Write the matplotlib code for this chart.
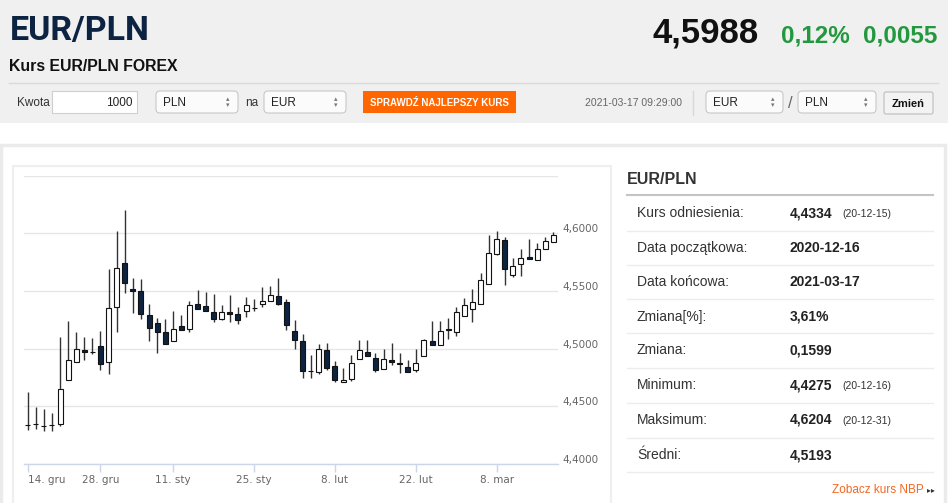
import numpy as np
import pandas as pd
import matplotlib
matplotlib.use("Agg")
import matplotlib.pyplot as plt
from matplotlib.patches import Rectangle, FancyBboxPatch
import matplotlib.transforms as mtransforms

# ---- data: EUR/PLN daily candles 2020-12-14 .. 2021-03-17 ----
holidays = ["2020-12-25", "2021-01-01"]
dates = pd.bdate_range("2020-12-14", "2021-03-17")
dates = dates[~dates.isin(pd.to_datetime(holidays))]

opens = [4.4336, 4.4343, 4.4333, 4.4340, 4.4350, 4.4728, 4.4880, 4.4990, 4.4973, 4.5021,
         4.4886, 4.5358, 4.5744, 4.5519, 4.5499, 4.5292, 4.5222, 4.5145, 4.5062, 4.5200,
         4.5171, 4.5384, 4.5370, 4.5318, 4.5254, 4.5318, 4.5300, 4.5326, 4.5351, 4.5390,
         4.5416, 4.5459, 4.5401, 4.5154, 4.5070, 4.4806, 4.4797, 4.4987, 4.4851, 4.4713,
         4.4733, 4.4906, 4.4969, 4.4921, 4.4826, 4.4903, 4.4873, 4.4843, 4.4811, 4.4935,
         4.5070, 4.5030, 4.5166, 4.5142, 4.5286, 4.5341, 4.5384, 4.5560, 4.5822, 4.5942,
         4.5640, 4.5735, 4.5793, 4.5770, 4.5862, 4.5928]
highs = [4.4624, 4.4497, 4.4480, 4.4446, 4.5100, 4.5243, 4.5142, 4.5100, 4.5090, 4.5157,
         4.5689, 4.6023, 4.6204, 4.5611, 4.5606, 4.5384, 4.5263, 4.5257, 4.5326, 4.5292,
         4.5410, 4.5511, 4.5493, 4.5476, 4.5375, 4.5467, 4.5361, 4.5444, 4.5433, 4.5537,
         4.5545, 4.5611, 4.5430, 4.5249, 4.5125, 4.4949, 4.5041, 4.5050, 4.4897, 4.4828,
         4.4949, 4.5073, 4.5079, 4.4964, 4.5000, 4.5050, 4.4964, 4.4903, 4.5000, 4.5085,
         4.5240, 4.5240, 4.5266, 4.5358, 4.5439, 4.5519, 4.5655, 4.5983, 4.6023, 4.5971,
         4.5784, 4.5862, 4.5948, 4.5914, 4.5971, 4.6014]
lows = [4.4296, 4.4307, 4.4287, 4.4287, 4.4330, 4.4728, 4.4880, 4.4903, 4.4955, 4.4811,
        4.4782, 4.5142, 4.5482, 4.5312, 4.5257, 4.5070, 4.4964, 4.5041, 4.5062, 4.5162,
        4.5142, 4.5341, 4.5324, 4.5229, 4.5246, 4.5229, 4.5211, 4.5275, 4.5324, 4.5364,
        4.5416, 4.5381, 4.5162, 4.5001, 4.4748, 4.4742, 4.4777, 4.4814, 4.4713, 4.4713,
        4.4719, 4.4906, 4.4932, 4.4800, 4.4826, 4.4854, 4.4791, 4.4797, 4.4800, 4.4935,
        4.5030, 4.5030, 4.5087, 4.5113, 4.5286, 4.5229, 4.5384, 4.5560, 4.5813, 4.5548,
        4.5620, 4.5634, 4.5778, 4.5770, 4.5862, 4.5928]
closes = [4.4334, 4.4345, 4.4328, 4.4342, 4.4647, 4.4903, 4.4998, 4.4972, 4.4971, 4.4863,
          4.5350, 4.5700, 4.5568, 4.5499, 4.5300, 4.5180, 4.5145, 4.5041, 4.5171, 4.5162,
          4.5375, 4.5341, 4.5324, 4.5257, 4.5318, 4.5298, 4.5249, 4.5381, 4.5353, 4.5416,
          4.5467, 4.5390, 4.5206, 4.5073, 4.4805, 4.4804, 4.5000, 4.4834, 4.4728, 4.4728,
          4.4872, 4.4987, 4.4932, 4.4814, 4.4912, 4.4886, 4.4871, 4.4797, 4.4877, 4.5073,
          4.5030, 4.5151, 4.5164, 4.5318, 4.5375, 4.5401, 4.5594, 4.5827, 4.5948, 4.5689,
          4.5718, 4.5784, 4.5778, 4.5862, 4.5934, 4.5988]

tick_dates = ["2020-12-14", "2020-12-28", "2021-01-11", "2021-01-25",
              "2021-02-08", "2021-02-22", "2021-03-08"]
tick_labels = ["14. gru", "28. gru", "11. sty", "25. sty", "8. lut", "22. lut", "8. mar"]
y_ticks = [4.40, 4.45, 4.50, 4.55, 4.60, 4.65]
y_labels = ["4,4000", "4,4500", "4,5000", "4,5500", "4,6000", ""]

stat_labels = ["Kurs odniesienia:", "Data początkowa:", "Data końcowa:", "Zmiana[%]:",
               "Zmiana:", "Minimum:", "Maksimum:", "Średni:"]
stat_values = ["4,4334", "2020-12-16", "2021-03-17", "3,61%", "0,1599", "4,4275", "4,6204", "4,5193"]
stat_dates = ["(20-12-15)", "", "", "", "", "(20-12-16)", "(20-12-31)", ""]

# ---- figure ----
W, H = 948, 503
fig = plt.figure(figsize=(W / 100, H / 100), dpi=100)
fig.patch.set_facecolor("white")

bg = fig.add_axes([0, 0, 1, 1], zorder=0)
bg.set_xlim(0, W)
bg.set_ylim(H, 0)
bg.axis("off")

SANS = "Liberation Sans"

# header
bg.add_patch(Rectangle((0, 0), W, 123, fc="#f0f0f0", ec="none"))
bg.plot([9, 938], [82.5, 82.5], color="#dadada", lw=1)
bg.text(10, 40, "EUR/PLN", family="Roboto", weight="bold", fontsize=24.5, color="#0d2342", va="baseline")
bg.text(9, 71, "Kurs EUR/PLN FOREX", family=SANS, weight="bold", fontsize=11.4, color="#111111", va="baseline")
bg.text(653, 42, "4,5988", family=SANS, weight="bold", fontsize=25, color="#111111", va="baseline")
bg.text(781, 42, "0,12%", family=SANS, weight="bold", fontsize=17.5, color="#23993f", va="baseline")
bg.text(863, 42, "0,0055", family=SANS, weight="bold", fontsize=17.5, color="#23993f", va="baseline")

# controls row
bg.text(17, 106, "Kwota", family=SANS, fontsize=8.5, color="#333333", va="baseline")
bg.add_patch(Rectangle((52, 91), 85, 22, fc="white", ec="#cfcfcf", lw=0.8))
bg.text(133, 106, "1000", family=SANS, fontsize=8.5, color="#222222", ha="right", va="baseline")


def select_box(x, w, label):
    bg.add_patch(FancyBboxPatch((x, 91), w, 22, boxstyle="round,pad=0,rounding_size=4",
                                fc="#fbfbfb", ec="#c8c8c8", lw=0.8))
    bg.text(x + 7, 106, label, family=SANS, fontsize=8.5, color="#222222", va="baseline")
    bg.text(x + w - 10, 99, "▴", fontsize=5, color="#777777", ha="center", va="center")
    bg.text(x + w - 10, 105, "▾", fontsize=5, color="#777777", ha="center", va="center")


select_box(156, 82, "PLN")
bg.text(245, 106, "na", family=SANS, fontsize=8.5, color="#333333", va="baseline")
select_box(264, 82, "EUR")
bg.add_patch(Rectangle((363, 91), 153, 22, fc="#ff6600", ec="none"))
bg.text(439.5, 102.5, "SPRAWDŹ NAJLEPSZY KURS", family=SANS, weight="bold", fontsize=7,
        color="white", ha="center", va="center")
bg.text(585, 106, "2021-03-17 09:29:00", family=SANS, fontsize=7.5, color="#666666", va="baseline")
bg.plot([693, 693], [91, 115], color="#d8d8d8", lw=1)
select_box(706, 77, "EUR")
bg.text(790, 103, "/", family=SANS, fontsize=12, color="#666666", ha="center", va="center")
select_box(798, 78, "PLN")
bg.add_patch(FancyBboxPatch((884, 92), 49, 22, boxstyle="round,pad=0,rounding_size=2",
                            fc="#f3f3f3", ec="#bdbdbd", lw=0.8))
bg.text(908.5, 107, "Zmień", family=SANS, weight="bold", fontsize=8, color="#111111",
        ha="center", va="baseline")

# panels
bg.add_patch(Rectangle((1, 144.5), 944.5, 400, fc="white", ec="#ebebeb", lw=2.5))
bg.add_patch(Rectangle((13.5, 165.5), 597.5, 400, fc="white", ec="#efefef", lw=1.6))

# right statistics panel
bg.text(627, 184, "EUR/PLN", family=SANS, weight="bold", fontsize=11.5, color="#333333", va="baseline")
bg.plot([627, 933], [195, 195], color="#c4c4c4", lw=1.5)
row_base = [217, 251.5, 286, 320.5, 354.5, 389, 424, 459]
row_lines = [231, 265, 299, 333, 367.5, 402.5, 438, 472]
for lab, val, dt, yb, yl in zip(stat_labels, stat_values, stat_dates, row_base, row_lines):
    bg.text(637, yb, lab, family=SANS, fontsize=10, color="#333333", va="baseline")
    bg.text(790, yb, val, family=SANS, weight="bold", fontsize=10, color="#222222", va="baseline")
    if dt:
        bg.text(842, yb, dt, family=SANS, fontsize=7.5, color="#333333", va="baseline")
    bg.plot([627, 933], [yl, yl], color="#ececec", lw=1)
bg.text(924, 493, "Zobacz kurs NBP", family=SANS, fontsize=8.5, color="#f26722", ha="right", va="baseline")
bg.text(929, 490, "▸", fontsize=5.5, color="#333333", ha="center", va="center")
bg.text(933, 490, "▸", fontsize=5.5, color="#333333", ha="center", va="center")

# ---- candlestick chart ----
x0, x1, y_top, y_bot = 24, 558, 175.6, 464
ax = fig.add_axes([x0 / W, 1 - y_bot / H, (x1 - x0) / W, (y_bot - y_top) / H], zorder=2)
ax.set_facecolor("none")

idx = np.arange(len(dates))
o = np.array(opens)
c = np.array(closes)
hi = np.array(highs)
lo = np.array(lows)
up = c >= o

ax.vlines(idx, lo, hi, color="#333333", lw=1, zorder=3)
body_bottom = np.minimum(o, c)
body_h = np.maximum(np.abs(c - o), 0.00015)
ax.bar(idx, body_h, bottom=body_bottom, width=0.62,
       color=np.where(up, "white", "#0d2342"), edgecolor="#111111", lw=0.8, zorder=4)

ax.set_xlim(-0.46, 65.58)
ax.set_ylim(4.4, 4.65)

tick_pos = [dates.get_loc(pd.Timestamp(d)) for d in tick_dates]
ax.set_xticks(tick_pos)
ax.set_xticklabels(tick_labels)
ax.tick_params(axis="x", direction="out", length=6, width=1, color="#ccd6eb",
               labelsize=7.5, labelcolor="#666666", pad=2)
ax.get_xticklabels()[0].set_ha("left")

ax.set_yticks(y_ticks)
ax.set_yticklabels(y_labels)
ax.yaxis.tick_right()
ax.tick_params(axis="y", length=0, labelsize=7.5, labelcolor="#666666", pad=3)
shift = mtransforms.ScaledTranslation(0, 5 / 100, fig.dpi_scale_trans)
for lab in ax.get_yticklabels():
    lab.set_transform(lab.get_transform() + shift)

ax.grid(axis="y", color="#e6e6e6", lw=1)
ax.set_axisbelow(True)
for s in ["top", "right", "left"]:
    ax.spines[s].set_visible(False)
ax.spines["bottom"].set_color("#ccd6eb")
ax.spines["bottom"].set_linewidth(1)

fig.savefig("out.png", dpi=100, facecolor=fig.get_facecolor())
